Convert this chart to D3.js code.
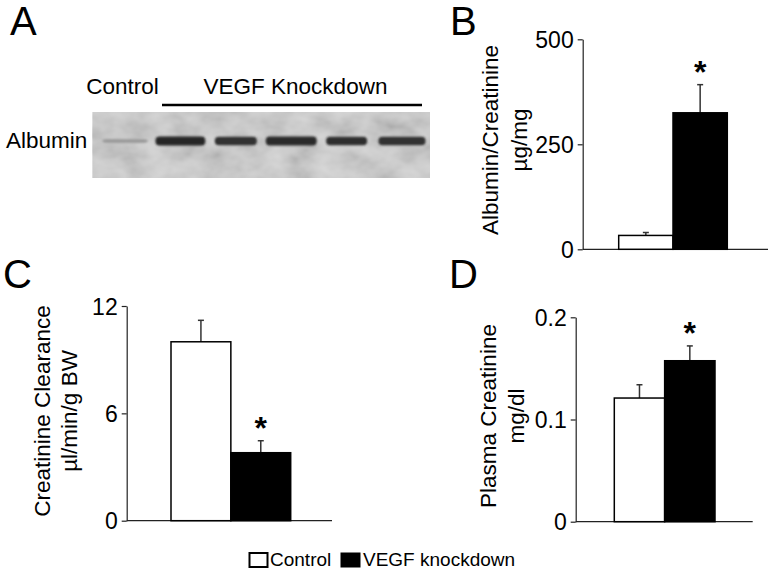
<!DOCTYPE html>
<html><head><meta charset="utf-8">
<script src="https://cdn.jsdelivr.net/npm/d3@7"></script>
<style>
body{margin:0;background:#fff}
svg{display:block;font-family:"Liberation Sans",Arial,Helvetica,sans-serif}
</style>
</head><body>
<svg id="chart" width="774" height="575"></svg>
<script>
// ---- data ----
const groups = ["Control", "VEGF knockdown"];
const albuminValues = [33, 325];
const albuminErrors = [7, 67];
const clearanceValues = [10.0, 3.8];
const clearanceErrors = [1.2, 0.67];
const plasmaValues = [0.121, 0.1575];
const plasmaErrors = [0.013, 0.0145];
const significant = [false, true];
const albuminTicks = [0, 250, 500];
const albuminTickLabels = ["0", "250", "500"];
const clearanceTicks = [0, 6, 12];
const clearanceTickLabels = ["0", "6", "12"];
const plasmaTicks = [0, 0.1, 0.2];
const plasmaTickLabels = ["0", "0.1", "0.2"];
const blotLanes = ["C1", "K1", "K2", "K3", "K4", "K5"];
const blotIntensity = [0.3, 1, 0.92, 0.97, 0.95, 0.93];
const blotBandWidth = [0.82, 0.9, 0.76, 0.92, 0.74, 0.85];
const blotGroups = ["Control", "VEGF Knockdown"];
const blotProtein = "Albumin";

const svg = d3.select("#chart");
const FONT = 22.5;

// ---- defs ----
const defs = svg.append("defs");
const noise = defs.append("filter").attr("id", "noise").attr("x", 0).attr("y", 0).attr("width", 1).attr("height", 1);
noise.append("feTurbulence").attr("type", "fractalNoise").attr("baseFrequency", "0.035 0.05").attr("numOctaves", 3).attr("seed", 7).attr("result", "t");
noise.append("feColorMatrix").attr("in", "t").attr("type", "matrix")
  .attr("values", "1 0 0 0 0  1 0 0 0 0  1 0 0 0 0  0 0 0 0 0.28");
const blur = defs.append("filter").attr("id", "blur").attr("x", "-20%").attr("y", "-100%").attr("width", "140%").attr("height", "300%");
blur.append("feGaussianBlur").attr("stdDeviation", "1.3 1");

// ---- panel letters ----
const letters = [["A", 10, 35], ["B", 450, 35], ["C", 3, 288], ["D", 449, 288]];
svg.selectAll("text.letter").data(letters).join("text").attr("class", "letter")
  .attr("x", d => d[1]).attr("y", d => d[2]).attr("font-size", 40).text(d => d[0]);

// ---- panel A : western blot ----
const blot = {x0: 92.5, x1: 430, y0: 112, y1: 178, bandY: 141};
svg.append("rect").attr("x", blot.x0).attr("y", blot.y0).attr("width", blot.x1 - blot.x0).attr("height", blot.y1 - blot.y0).attr("fill", "#cdcdcd");
svg.append("rect").attr("x", blot.x0).attr("y", blot.y0).attr("width", blot.x1 - blot.x0).attr("height", blot.y1 - blot.y0).attr("filter", "url(#noise)");
const laneX = d3.scalePoint().domain(blotLanes).range([125, 402]);
const bandFill = d3.scaleLinear().domain([0, 1]).range(["#c8c8c8", "#252525"]);
const bandH = d3.scaleLinear().domain([0, 1]).range([1, 9]);
svg.append("g").selectAll("rect").data(blotLanes).join("rect")
  .attr("x", (d, i) => laneX(d) - laneX.step() * blotBandWidth[i] / 2)
  .attr("width", (d, i) => laneX.step() * blotBandWidth[i])
  .attr("y", (d, i) => blot.bandY - bandH(blotIntensity[i]) / 2)
  .attr("height", (d, i) => bandH(blotIntensity[i]))
  .attr("rx", 4)
  .attr("fill", (d, i) => bandFill(blotIntensity[i]))
  .attr("filter", "url(#blur)");
svg.append("text").attr("x", 122.5).attr("y", 94).attr("text-anchor", "middle").attr("font-size", FONT).text(blotGroups[0]);
svg.append("text").attr("x", 295.5).attr("y", 94).attr("text-anchor", "middle").attr("font-size", FONT).text(blotGroups[1]);
svg.append("line").attr("x1", 162).attr("x2", 422).attr("y1", 105).attr("y2", 105).attr("stroke", "#000").attr("stroke-width", 2.5);
svg.append("text").attr("x", 6).attr("y", 148).attr("font-size", FONT).text(blotProtein);

// ---- bar panels ----
function barPanel(o) {
  const g = svg.append("g");
  const y = d3.scaleLinear().domain([0, o.yMax]).range([o.bottom, o.top]);
  const x = d3.scaleBand().domain(groups).range(o.barRange);
  const axis = g.append("g").attr("transform", `translate(${o.axisX},0)`)
    .call(d3.axisLeft(y).tickValues(o.ticks).tickSize(5).tickSizeOuter(0).tickPadding(4)
      .tickFormat((d, i) => o.tickLabels[i]));
  axis.selectAll("path,line").attr("stroke", "#222").attr("stroke-width", 1.2);
  axis.selectAll("text").attr("font-size", 23).attr("font-family", null).attr("fill", "#000").attr("dy", "0.36em");
  // baseline
  g.append("line").attr("x1", o.axisX).attr("x2", o.axisEnd).attr("y1", y(0)).attr("y2", y(0))
    .attr("stroke", "#222").attr("stroke-width", 1.2);
  // error bars
  const eb = g.append("g").attr("stroke", "#333").attr("stroke-width", 1.5);
  groups.forEach((k, i) => {
    const cx = x(k) + x.bandwidth() / 2;
    eb.append("line").attr("x1", cx).attr("x2", cx).attr("y1", y(o.values[i])).attr("y2", y(o.values[i] + o.errors[i]));
    eb.append("line").attr("x1", cx - 3).attr("x2", cx + 3).attr("y1", y(o.values[i] + o.errors[i])).attr("y2", y(o.values[i] + o.errors[i]));
  });
  // bars
  g.selectAll("rect.bar").data(groups).join("rect").attr("class", "bar")
    .attr("x", d => x(d)).attr("width", x.bandwidth())
    .attr("y", (d, i) => y(o.values[i])).attr("height", (d, i) => y(0) - y(o.values[i]))
    .attr("fill", (d, i) => i === 0 ? "#fff" : "#000")
    .attr("stroke", "#000").attr("stroke-width", 1.5);
  // asterisks
  g.selectAll("text.star").data(groups.filter((d, i) => significant[i])).join("text").attr("class", "star")
    .attr("x", d => x(d) + x.bandwidth() / 2)
    .attr("y", d => { const i = groups.indexOf(d); return y(o.values[i] + o.errors[i]) - 1.5; })
    .attr("text-anchor", "middle").attr("font-size", 32).attr("font-weight", "bold").text("*");
  // y title
  o.title.forEach((t, j) => {
    g.append("text").attr("transform", `translate(${o.titleX[j]},${o.titleY}) rotate(-90)`)
      .attr("text-anchor", "middle").attr("font-size", FONT).text(t);
  });
}

barPanel({values: albuminValues, errors: albuminErrors, ticks: albuminTicks, tickLabels: albuminTickLabels,
  yMax: 500, bottom: 249.3, top: 39.3, axisX: 582.7, axisEnd: 768, barRange: [618.7, 727.3],
  title: ["Albumin/Creatinine", "µg/mg"], titleX: [498, 527], titleY: 140});
barPanel({values: clearanceValues, errors: clearanceErrors, ticks: clearanceTicks, tickLabels: clearanceTickLabels,
  yMax: 12, bottom: 520.7, top: 306, axisX: 126.7, axisEnd: 332, barRange: [171, 290.7],
  title: ["Creatinine Clearance", "µl/min/g BW"], titleX: [49.7, 77.3], titleY: 411});
barPanel({values: plasmaValues, errors: plasmaErrors, ticks: plasmaTicks, tickLabels: plasmaTickLabels,
  yMax: 0.2, bottom: 521.7, top: 317.3, axisX: 575.7, axisEnd: 752.7, barRange: [614.3, 715],
  title: ["Plasma Creatinine", "mg/dl"], titleX: [496.3, 524], titleY: 416});

// ---- legend ----
const legend = svg.append("g");
legend.append("rect").attr("x", 249.5).attr("y", 553).attr("width", 18).attr("height", 14).attr("fill", "#fff").attr("stroke", "#000").attr("stroke-width", 2);
legend.append("text").attr("x", 270).attr("y", 566).attr("font-size", 19).text(groups[0]);
legend.append("rect").attr("x", 340.5).attr("y", 552.5).attr("width", 20).attr("height", 15).attr("fill", "#000");
legend.append("text").attr("x", 363).attr("y", 566).attr("font-size", 19).text(groups[1]);
</script>
</body></html>
